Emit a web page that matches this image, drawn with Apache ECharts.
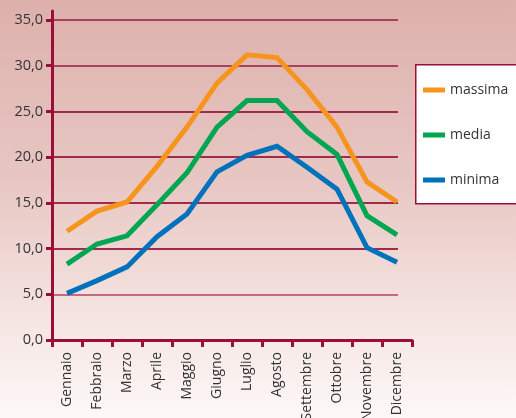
<!DOCTYPE html>
<html>
<head>
<meta charset="utf-8">
<script src="https://cdn.jsdelivr.net/npm/echarts@6/dist/echarts.min.js"></script>
<style>
  html, body { margin: 0; padding: 0; }
  #chart {
    width: 516px;
    height: 418px;
    background: linear-gradient(to bottom, #ddb0ab 0%, #e8c8c4 45%, #f5e4e1 75%, #fdf8f7 100%);
  }
</style>
</head>
<body>
<div id="chart"></div>
<script>
const months = ["Gennaio", "Febbraio", "Marzo", "Aprile", "Maggio", "Giugno", "Luglio", "Agosto", "Settembre", "Ottobre", "Novembre", "Dicembre"];
const massima = [11.9, 14.1, 15.1, 19.0, 23.3, 28.1, 31.2, 30.9, 27.4, 23.3, 17.3, 15.1];
const media = [8.3, 10.5, 11.4, 14.8, 18.3, 23.3, 26.2, 26.2, 22.8, 20.3, 13.6, 11.5];
const minima = [5.1, 6.5, 8.0, 11.3, 13.8, 18.4, 20.2, 21.2, 18.9, 16.5, 10.1, 8.5];
const yTicks = [0, 5, 10, 15, 20, 25, 30, 35];

const dark = "#9a0f3a";
const chart = echarts.init(document.getElementById("chart"));

function mkLine(name, data, color) {
  return {
    name: name,
    type: "line",
    xAxisIndex: 0,
    yAxisIndex: 0,
    data: data,
    symbol: "none",
    lineStyle: { color: color, width: 5, join: "miter" },
    itemStyle: { color: color },
    z: 5
  };
}

chart.setOption({
  animation: false,
  textStyle: { fontFamily: "Open Sans" },
  grid: [
    { left: 52, right: 104, top: 11, bottom: 78, containLabel: false, outerBoundsMode: "none" },
    { left: 52, right: 118, top: 20, bottom: 78, containLabel: false, outerBoundsMode: "none" }
  ],
  xAxis: [
    {
      type: "category",
      gridIndex: 0,
      data: months,
      boundaryGap: true,
      axisLine: { lineStyle: { color: dark, width: 3 } },
      axisTick: { show: true, length: 7, lineStyle: { color: dark, width: 3 } },
      axisLabel: { rotate: 90, color: "#333", fontSize: 14, margin: 12, interval: 0 },
      z: 4
    },
    {
      type: "value",
      gridIndex: 1,
      show: false
    }
  ],
  yAxis: [
    {
      type: "value",
      gridIndex: 0,
      min: 0,
      max: 36,
      axisLine: { show: true, lineStyle: { color: dark, width: 3 } },
      axisTick: { show: false },
      axisLabel: { show: false },
      splitLine: { show: false },
      z: 4
    },
    {
      type: "value",
      gridIndex: 1,
      min: yTicks[0],
      max: yTicks[yTicks.length - 1],
      interval: 5,
      axisLine: { show: false },
      axisTick: { show: true, length: 6, lineStyle: { color: dark, width: 3 } },
      axisLabel: {
        color: "#333",
        fontSize: 14.5,
        margin: 9,
        formatter: v => v.toFixed(1).replace(".", ",")
      },
      splitLine: {
        show: true,
        lineStyle: {
          width: 2,
          color: ["#a02a4c", "#c26a80", "#a02a4c", "#a02a4c", "#a02a4c", "#a02a4c", "#a8405e", "#a8405e"]
        }
      }
    }
  ],
  legend: {
    orient: "vertical",
    left: 421,
    top: 75,
    icon: "rect",
    itemWidth: 22,
    itemHeight: 5,
    itemGap: 25,
    padding: [5, 5, 5, 2],
    textStyle: { color: "#333", fontSize: 14, lineHeight: 20 },
    data: ["massima", "media", "minima"]
  },
  graphic: [
    {
      type: "rect",
      left: 415,
      top: 64,
      shape: { width: 110, height: 139 },
      style: { fill: "#ffffff", stroke: dark, lineWidth: 1.5 },
      z: -1
    }
  ],
  series: [
    mkLine("massima", massima, "#f7941d"),
    mkLine("media", media, "#00a651"),
    mkLine("minima", minima, "#0072bc")
  ]
});
</script>
</body>
</html>
